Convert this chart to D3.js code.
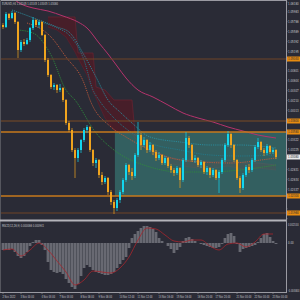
<!DOCTYPE html>
<html>
<head>
<meta charset="utf-8">
<script src="https://cdn.jsdelivr.net/npm/d3@7"></script>
<style>
  html, body { margin: 0; padding: 0; background: #2a2b36; }
  svg { display: block; }
  text { font-family: "DejaVu Sans Condensed", "DejaVu Sans", sans-serif; }
</style>
</head>
<body>
<div id="graphics-box"></div>
<script>
// CANDLE DATA (EURUSD H4)
const firstOpen = 1.0572;
const closes = [1.0568,1.0594,1.0586,1.0596,1.0578,1.0522,1.0538,1.0534,1.0542,1.0566,
  1.0582,1.0572,1.0578,1.0552,1.0502,1.0472,1.0448,1.0452,1.0442,1.0446,
  1.0422,1.0376,1.0362,1.0322,1.0306,1.0322,1.0342,1.0362,1.0368,1.0322,
  1.0296,1.0302,1.0272,1.0258,1.0266,1.0238,1.0218,1.0206,1.0222,1.0238,
  1.0262,1.0292,1.0278,1.0270,1.0312,1.0352,1.0332,1.0342,1.0322,1.0332,
  1.0318,1.0306,1.0312,1.0296,1.0306,1.0290,1.0282,1.0276,1.0286,1.0262,
  1.0302,1.0346,1.0332,1.0302,1.0306,1.0292,1.0298,1.0278,1.0286,1.0272,
  1.0282,1.0266,1.0278,1.0302,1.0332,1.0354,1.0332,1.0302,1.0266,1.0246,
  1.0272,1.0288,1.0282,1.0302,1.0328,1.0338,1.0322,1.0316,1.0330,1.0318,
  1.0322,1.0308];
const highs = [1.0576,1.0598,1.0596,1.0600,1.0598,1.0580,1.0542,1.0544,1.0546,1.0568,
  1.0588,1.0584,1.0582,1.0580,1.0554,1.0506,1.0474,1.0456,1.0454,1.0454,
  1.0448,1.0424,1.0380,1.0366,1.0326,1.0326,1.0344,1.0366,1.0372,1.0370,
  1.0324,1.0306,1.0304,1.0278,1.0270,1.0268,1.0242,1.0222,1.0226,1.0242,
  1.0266,1.0296,1.0294,1.0286,1.0316,1.0378,1.0356,1.0348,1.0344,1.0338,
  1.0334,1.0322,1.0318,1.0314,1.0310,1.0308,1.0294,1.0286,1.0290,1.0288,
  1.0306,1.0358,1.0350,1.0334,1.0312,1.0308,1.0302,1.0300,1.0290,1.0288,
  1.0286,1.0284,1.0282,1.0306,1.0336,1.0360,1.0356,1.0334,1.0304,1.0270,
  1.0276,1.0292,1.0294,1.0306,1.0332,1.0346,1.0340,1.0326,1.0334,1.0332,
  1.0326,1.0324];
const lows = [1.0564,1.0566,1.0582,1.0584,1.0574,1.0506,1.0518,1.0530,1.0532,1.0538,
  1.0562,1.0568,1.0566,1.0550,1.0498,1.0468,1.0444,1.0442,1.0436,1.0438,
  1.0418,1.0372,1.0358,1.0318,1.0266,1.0298,1.0316,1.0338,1.0356,1.0318,
  1.0290,1.0286,1.0266,1.0252,1.0254,1.0232,1.0212,1.0194,1.0200,1.0216,
  1.0234,1.0258,1.0272,1.0262,1.0266,1.0308,1.0322,1.0328,1.0316,1.0318,
  1.0312,1.0300,1.0302,1.0292,1.0292,1.0286,1.0276,1.0270,1.0272,1.0246,
  1.0258,1.0298,1.0326,1.0298,1.0296,1.0288,1.0286,1.0274,1.0272,1.0266,
  1.0268,1.0262,1.0236,1.0274,1.0298,1.0328,1.0326,1.0298,1.0262,1.0236,
  1.0242,1.0268,1.0276,1.0278,1.0298,1.0324,1.0318,1.0310,1.0312,1.0314,
  1.0314,1.0304];

// MOVING AVERAGES (SAMPLED AT CANDLE INDEX)
const ma200Idx = [3,6,10,15,20,25,28,32,35,38,41,45,50,55,60,65,70,75,80,85,91];
const ma200 = [1.0626,1.0614,1.0606,1.0600,1.0590,1.0578,1.0566,1.0536,1.0514,1.0490,
  1.0466,1.0442,1.0428,1.0412,1.0396,1.0386,1.0378,1.0368,1.0360,1.0352,1.0346];
const bandUpIdx = [3,12,18,22,27,31,35,39,43,49,59,69,79,91];
const bandUp = [1.0602,1.0582,1.0568,1.0558,1.0512,1.0468,1.0422,1.0398,1.0376,1.0348,
  1.0338,1.0332,1.0332,1.0326];
const bandMidIdx = [10,18,22,27,30,32,37,43,49,59,69,79,91];
const bandMid = [1.0582,1.0566,1.0552,1.0502,1.0442,1.0422,1.0386,1.0356,1.0336,1.0322,
  1.0312,1.0310,1.0312];
const maFastIdx = [8,16,21,27,29,36,41,49,56,66,76,86,91];
const maFast = [1.0576,1.0548,1.0508,1.0456,1.0422,1.0368,1.0348,1.0322,1.0306,1.0298,
  1.0296,1.0302,1.0306];
const maSlowIdx = [5,10,16,21,24,31,37,49,59,69,79,91];
const maSlow = [1.0562,1.0556,1.0512,1.0442,1.0422,1.0356,1.0322,1.0288,1.0278,1.0278,
  1.0282,1.0292];

// CLOUD
const cloudIdx = [15,18,21,24,25,28,30,31,34,37,40,43,44,46,50,55,60,65,70,75,80,85,91];
const cloudTop = [1.0588,1.0588,1.0588,1.0588,1.0516,1.0516,1.0516,1.0448,1.0442,1.0422,
  1.0422,1.0422,1.0356,1.0342,1.0322,1.0308,1.0302,1.0302,1.0298,1.0302,1.0296,1.0296,1.0292];
const cloudBottom = [1.0568,1.0562,1.0548,1.0518,1.0506,1.0472,1.0438,1.0426,1.0386,1.0362,
  1.0356,1.0354,1.0346,1.0332,1.0312,1.0296,1.0290,1.0286,1.0286,1.0290,1.0284,1.0286,1.0282];

// LEVELS AND RANGE BOX
const levels = [1.0504, 1.0380, 1.0358, 1.0230, 1.0196];
const levelColors = ["#6e4426", "#7a4c24", "#c77a1c", "#c77a1c", "#6e4426"];
const levelWidths = [1, 1, 1.4, 1.4, 1];
const boxStart = 37.3;
const boxTop = 1.0358;
const boxBottom = 1.0230;

// MACD
const hist = [-0.0007,-0.0007,-0.0007,-0.0006,-0.0009,-0.0013,-0.0015,-0.0013,-0.0009,-0.0003,
  0.0001,0.0003,0.0003,-0.0002,-0.0007,-0.0019,-0.0027,-0.0029,-0.0030,-0.0029,
  -0.0031,-0.0036,-0.0040,-0.0044,-0.0046,-0.0041,-0.0033,-0.0025,-0.0022,-0.0024,
  -0.0027,-0.0029,-0.0030,-0.0031,-0.0032,-0.0032,-0.0031,-0.0029,-0.0025,-0.0021,
  -0.0017,-0.0014,-0.0005,0.0005,0.0009,0.0012,0.0015,0.0017,0.0017,0.0016,
  0.0014,0.0011,0.0005,0.0002,0.0000,-0.0003,-0.0006,-0.0010,-0.0007,-0.0004,
  0.0002,0.0005,0.0006,0.0004,0.0002,0.0000,-0.0001,-0.0002,-0.0003,-0.0004,
  -0.0005,-0.0005,-0.0004,-0.0001,0.0005,0.0009,0.0010,0.0007,-0.0001,-0.0009,
  -0.0006,-0.0005,-0.0004,-0.0003,-0.0002,0.0001,0.0005,0.0009,0.0010,0.0006,
  0.0002,-0.0001];
const signalIdx = [0,3,6,9,12,15,18,21,24,27,30,33,36,39,42,45,48,51,54,57,60,63,66,69,72,75,78,81,84,87,90];
const signal = [-0.0007,-0.0006,-0.0013,-0.0007,0.0000,-0.0007,-0.0018,-0.0029,-0.0042,-0.0037,
  -0.0028,-0.0029,-0.0030,-0.0025,-0.0014,0.0003,0.0015,0.0014,0.0008,0.0002,
  0.0001,0.0003,0.0003,-0.0003,-0.0007,-0.0001,0.0000,-0.0004,0.0001,0.0009,0.0009];

// AXIS LABELS
const priceTicks = [1.06180,1.05983,1.05786,1.05589,1.05392,1.05195,1.04998,1.04801,1.04604,
  1.04407,1.04210,1.04013,1.03816,1.03619,1.03422,1.03225,1.03028,1.02831,1.02634,
  1.02437,1.02240,1.02043,1.01846];
const macdTicks = [0.0021, 0, -0.0048];
const macdTickLabels = ["0.002100", "0.00", "-0.004800"];
const timeIdx = [0,6,13,19,26,32,39,45,52,58,65,71,78,84,90];
const timeLabels = ["2 Nov 2022","3 Nov 00:00","4 Nov 04:00","7 Nov 04:00","8 Nov 08:00",
  "9 Nov 08:00","10 Nov 12:00","11 Nov 12:00","14 Nov 16:00","15 Nov 16:00",
  "16 Nov 20:00","17 Nov 20:00","21 Nov 00:00","22 Nov 00:00","23 Nov 00:00"];
const lastPrice = 1.03080;

// SIZES
const w = 300;
const h = 300;
const plotRight = 286;
const mainTop = 1;
const mainBottom = 219;
const subTop = 222;
const subBottom = 292;

const svg = d3.select("#graphics-box").append("svg").attr("width", w).attr("height", h);

const defs = svg.append("defs");
defs.append("clipPath").attr("id", "clipMain").append("rect")
  .attr("x", 0).attr("y", mainTop).attr("width", plotRight).attr("height", mainBottom - mainTop);
defs.append("clipPath").attr("id", "clipSub").append("rect")
  .attr("x", 0).attr("y", subTop).attr("width", plotRight).attr("height", subBottom - subTop);

// SCALES
const n = closes.length;
const xScale = d3.scaleBand().domain(d3.range(n)).range([1.5, 1.5 + 3 * n]).padding(0);
const xc = (i) => xScale(i) + xScale.bandwidth() / 2;
const xIdx = d3.scaleLinear().domain([0, n - 1]).range([xc(0), xc(n - 1)]);
const yScale = d3.scaleLinear().domain([1.01846, 1.0618]).range([218.7, 2]);
const yMacd = d3.scaleLinear().domain([-0.0048, 0.0021]).range([291, 222]);

const main = svg.append("g").attr("clip-path", "url(#clipMain)");

// CLOUD
const cloudData = cloudIdx.map((d, k) => ({ i: d, a: cloudTop[k], b: cloudBottom[k] }));
main.append("path")
  .datum(cloudData)
  .attr("d", d3.area().x((d) => xIdx(d.i)).y0((d) => yScale(d.b)).y1((d) => yScale(d.a)))
  .attr("fill", "#4c1c27")
  .attr("fill-opacity", 0.85);
[["a", "#6a2231"], ["b", "#5e1e2c"]].forEach(([key, col]) => {
  main.append("path")
    .datum(cloudData)
    .attr("d", d3.line().x((d) => xIdx(d.i)).y((d) => yScale(d[key])))
    .attr("fill", "none").attr("stroke", col).attr("stroke-width", 0.7);
});

// RANGE BOX (DRAWN OVER THE CLOUD, UNDER THE CANDLES)
main.append("rect")
  .attr("x", xIdx(boxStart))
  .attr("y", yScale(boxTop))
  .attr("width", plotRight - xIdx(boxStart))
  .attr("height", yScale(boxBottom) - yScale(boxTop))
  .attr("fill", "#3b8a84")
  .attr("fill-opacity", 0.55);

// DOTTED LINES
function drawLine(idx, vals, color, dash, width) {
  main.append("path")
    .datum(idx.map((d, k) => [d, vals[k]]))
    .attr("d", d3.line().curve(d3.curveMonotoneX).x((d) => xIdx(d[0])).y((d) => yScale(d[1])))
    .attr("fill", "none")
    .attr("stroke", color)
    .attr("stroke-width", width)
    .attr("stroke-dasharray", dash);
}
drawLine(bandUpIdx, bandUp, "#2a8fa0", "1.2,1", 0.9);
drawLine(bandMidIdx, bandMid, "#23798a", "1.2,1", 0.9);
drawLine(maSlowIdx, maSlow, "#2f8a3c", "1.2,1", 0.9);
drawLine(maFastIdx, maFast, "#c0583a", "1.2,1", 0.9);
drawLine(ma200Idx, ma200, "#b5336c", null, 1);

// HORIZONTAL LEVELS
main.selectAll(".level")
  .data(levels)
  .enter()
  .append("line")
  .attr("class", "level")
  .attr("x1", 0).attr("x2", plotRight)
  .attr("y1", (d) => yScale(d)).attr("y2", (d) => yScale(d))
  .attr("stroke", (d, k) => levelColors[k])
  .attr("stroke-width", (d, k) => levelWidths[k]);

// CANDLES
const candles = closes.map((c, i) => ({
  i: i,
  o: i === 0 ? firstOpen : closes[i - 1],
  h: highs[i],
  l: lows[i],
  c: c
}));
const bull = "#12d6ee";
const bear = "#f0a41e";
const cg = main.selectAll(".candle").data(candles).enter().append("g").attr("class", "candle");
cg.append("line")
  .attr("x1", (d) => xc(d.i)).attr("x2", (d) => xc(d.i))
  .attr("y1", (d) => yScale(d.h)).attr("y2", (d) => yScale(d.l))
  .attr("stroke", (d) => (d.c >= d.o ? bull : bear))
  .attr("stroke-width", 0.7);
cg.append("rect")
  .attr("x", (d) => xc(d.i) - 1)
  .attr("width", 2)
  .attr("y", (d) => yScale(Math.max(d.o, d.c)))
  .attr("height", (d) => Math.max(0.8, Math.abs(yScale(d.o) - yScale(d.c))))
  .attr("fill", (d) => (d.c >= d.o ? bull : bear));

// MACD PANEL
const sub = svg.append("g").attr("clip-path", "url(#clipSub)");
sub.selectAll(".bar")
  .data(hist)
  .enter()
  .append("rect")
  .attr("x", (d, i) => xScale(i))
  .attr("width", xScale.bandwidth())
  .attr("y", (d) => Math.min(yMacd(d), yMacd(0)))
  .attr("height", (d) => Math.abs(yMacd(d) - yMacd(0)))
  .attr("fill", "#5d5e67");
sub.selectAll(".barline")
  .data(hist)
  .enter()
  .append("line")
  .attr("x1", (d, i) => xc(i)).attr("x2", (d, i) => xc(i))
  .attr("y1", yMacd(0)).attr("y2", (d) => yMacd(d))
  .attr("stroke", "#84858d")
  .attr("stroke-width", 0.6);
sub.append("path")
  .datum(signalIdx.map((d, k) => [d, signal[k]]))
  .attr("d", d3.line().curve(d3.curveMonotoneX).x((d) => xIdx(d[0])).y((d) => yMacd(d[1])))
  .attr("fill", "none")
  .attr("stroke", "#a8242c")
  .attr("stroke-width", 0.8);

// FRAME
const frame = "#9a9aa2";
svg.append("line").attr("x1", 0).attr("x2", plotRight).attr("y1", 0.5).attr("y2", 0.5).attr("stroke", frame);
svg.append("line").attr("x1", 0.5).attr("x2", 0.5).attr("y1", 0).attr("y2", subBottom).attr("stroke", "#55565e");
svg.append("line").attr("x1", plotRight + 0.5).attr("x2", plotRight + 0.5).attr("y1", 0).attr("y2", subBottom + 1).attr("stroke", frame);
svg.append("rect").attr("x", 0).attr("y", mainBottom + 0.5).attr("width", plotRight).attr("height", 2).attr("fill", "#b4b4ba");
svg.append("line").attr("x1", 0).attr("x2", plotRight + 1).attr("y1", subBottom + 0.5).attr("y2", subBottom + 0.5).attr("stroke", frame);

// SMALL NARROW TEXT (SQUEEZED SIDEWAYS LIKE THE TERMINAL FONT)
const axisText = "#c4c4c8";
function smallText(parent, x, y, str, color, sx) {
  return parent.append("text")
    .attr("transform", "translate(" + x + "," + y + ") scale(" + sx + ",1)")
    .attr("font-size", "4px")
    .attr("fill", color)
    .text(str);
}

// PRICE AXIS (TICKS HIDDEN UNDER A HIGHLIGHT TAG ARE LEFT OUT)
const labelX = plotRight + 2;
const priceSx = 0.72;
const tagValues = levels.concat([lastPrice]);
const visibleTicks = priceTicks.filter((p) =>
  tagValues.every((t) => Math.abs(yScale(p) - yScale(t)) > 5.2) && yScale(p) < mainBottom - 1
);
visibleTicks.forEach((p) => {
  smallText(svg, labelX, Math.max(4.8, yScale(p) + 1.4), p.toFixed(5), axisText, priceSx);
});
svg.selectAll(".ptickmark")
  .data(priceTicks)
  .enter()
  .append("line")
  .attr("x1", plotRight).attr("x2", plotRight + 1.5)
  .attr("y1", (d) => yScale(d)).attr("y2", (d) => yScale(d))
  .attr("stroke", frame).attr("stroke-width", 0.6);

// HIGHLIGHTED PRICE LABELS
const tags = levels.map((d) => ({ v: d, bg: "#e88c10", fg: "#2a2b36" }));
tags.push({ v: lastPrice, bg: "#e8e8e8", fg: "#2a2b36" });
tags.forEach((t) => {
  svg.append("rect")
    .attr("x", plotRight + 1)
    .attr("y", yScale(t.v) - 2.5)
    .attr("width", w - plotRight)
    .attr("height", 5)
    .attr("fill", t.bg);
  smallText(svg, labelX, yScale(t.v) + 1.4, t.v.toFixed(5), t.fg, priceSx);
});

// MACD AXIS
macdTicks.forEach((v, k) => {
  const sx = macdTickLabels[k].length > 7 ? 0.62 : priceSx;
  smallText(svg, labelX, yMacd(v) + (k === 0 ? 3.5 : 1.4), macdTickLabels[k], axisText, sx);
});

// TIME AXIS
timeIdx.forEach((d, k) => {
  smallText(svg, xc(d) - 0.5, 298.3, timeLabels[k], axisText, 0.62);
});
svg.selectAll(".ttickmark")
  .data(timeIdx)
  .enter()
  .append("line")
  .attr("x1", (d) => xc(d)).attr("x2", (d) => xc(d))
  .attr("y1", subBottom).attr("y2", subBottom + 2)
  .attr("stroke", frame).attr("stroke-width", 0.6);

// TITLES
smallText(svg, 2, 5.2, "EURUSD,H4  1.03105 1.03145 1.03045 1.03080", axisText, 0.66);
smallText(svg, 2, 226.5, "MACD(12,26,9) 0.000066 0.000941", axisText, 0.66);
</script>
</body>
</html>
